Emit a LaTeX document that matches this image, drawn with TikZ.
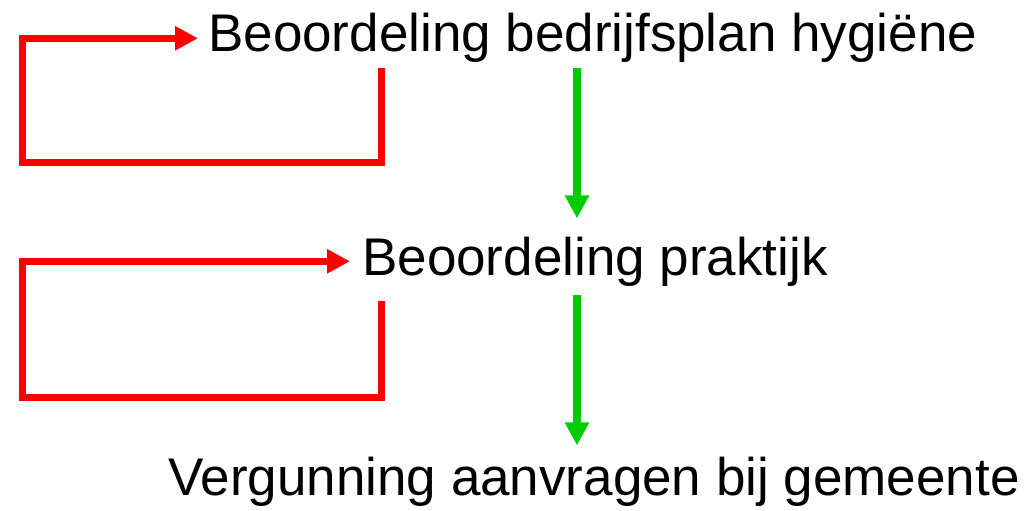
\documentclass[tikz,border=0pt]{standalone}
\usepackage{fontspec}
\setmainfont{Liberation Sans}
\usetikzlibrary{arrows.meta}
\definecolor{loopred}{HTML}{FF0000}
\definecolor{okgreen}{HTML}{00CC00}

\begin{document}
\begin{tikzpicture}[x=1pt, y=-1pt,
    stage/.style = {anchor=base west, inner sep=0pt,
                    font=\fontsize{53}{60}\selectfont},
    redo/.style  = {draw=loopred, line width=7pt,
                    -{Triangle[length=23pt,width=23pt]}},
    next/.style  = {draw=okgreen, line width=8pt,
                    -{Triangle[length=23pt,width=23pt]}}]
\useasboundingbox (0,0) rectangle (1034,511);
\node[stage] (plan)   at (208,52)  {Beoordeling bedrijfsplan hygiëne};
\node[stage] (prak)   at (362,275) {Beoordeling praktijk};
\node[stage] (verg)   at (168,495) {Vergunning aanvragen bij gemeente};
\coordinate (gx) at (577,0);
% terug naar beoordeling
\coordinate (r1) at (381,68);
\coordinate (c1) at (22,162);
\coordinate (r2) at (381,301);
\coordinate (c2) at (22,397);
\draw[redo, shorten >=10pt] (r1) |- (c1) |- (plan.west);
\draw[redo, shorten >=12pt] (r2) |- (c2) |- (prak.west);
% volgende stap
\draw[next] ([yshift=-5pt]plan.south -| gx) -- ([yshift=18pt]prak.north -| gx);
\draw[next] ([yshift=-9pt]prak.south -| gx) -- ([yshift=11pt]verg.north -| gx);
\end{tikzpicture}
\end{document}
